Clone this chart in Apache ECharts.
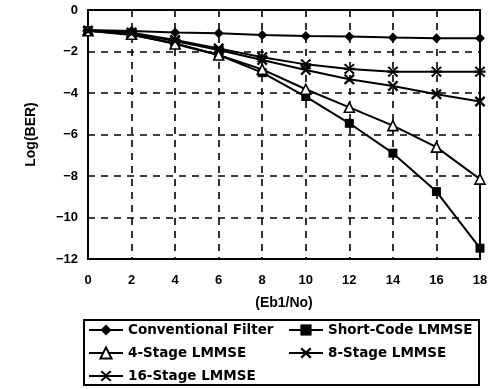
<!DOCTYPE html>
<html>
<head>
<meta charset="utf-8">
<script src="https://cdn.jsdelivr.net/npm/echarts@6/dist/echarts.min.js"></script>
<style>html,body{margin:0;padding:0;background:#fff;overflow:hidden;}#c{width:497px;height:389px;}</style>
</head>
<body>
<div id="c"></div>
<script>
var xValues = [0, 2, 4, 6, 8, 10, 12, 14, 16, 18];
var conventional = [-0.96, -1.01, -1.08, -1.12, -1.2, -1.25, -1.28, -1.33, -1.36, -1.36];
var shortCode = [-1.0, -1.2, -1.6, -2.17, -3.02, -4.17, -5.46, -6.9, -8.75, -11.48];
var stage4 = [-1.0, -1.17, -1.64, -2.17, -2.86, -3.82, -4.69, -5.57, -6.61, -8.15];
var stage8 = [-1.0, -1.12, -1.49, -1.93, -2.41, -2.89, -3.34, -3.66, -4.06, -4.41];
var stage16 = [-1.0, -1.09, -1.44, -1.85, -2.28, -2.62, -2.84, -2.97, -2.97, -2.97];
var seriesNames = ['Conventional Filter', 'Short-Code LMMSE', '4-Stage LMMSE', '8-Stage LMMSE', '16-Stage LMMSE'];
var yTicks = [0, -2, -4, -6, -8, -10, -12];

function pairs(ys) { return xValues.map(function (x, i) { return [x, ys[i]]; }); }

var font = 'Liberation Sans, Arial, sans-serif';
var legendFont = 'DejaVu Sans, sans-serif';
var xPath = 'path://M0,1.5L1.5,0L5,3.5L8.5,0L10,1.5L6.5,5L10,8.5L8.5,10L5,6.5L1.5,10L0,8.5L3.5,5Z';
var starPath = 'path://M0,1.5L1.5,0L5,3.5L8.5,0L10,1.5L6.5,4L10,4L10,6L6.5,6L10,8.5L8.5,10L5,6.5L1.5,10L0,8.5L3.5,6L0,6L0,4L3.5,4Z';

function mk(name, data, symbol, size, fill) {
  return {
    name: name, type: 'line', data: pairs(data),
    symbol: symbol, symbolSize: size, showSymbol: true,
    lineStyle: { color: '#000', width: 2 },
    itemStyle: { color: fill, borderColor: '#000', borderWidth: fill === '#fff' ? 1.6 : 0 },
    emphasis: { disabled: true }, animation: false, z: 3
  };
}

var legendCommon = {
  orient: 'vertical', top: 323, height: 70, padding: 0,
  itemGap: 9, itemWidth: 34, itemHeight: 14,
  textStyle: { color: '#000', fontFamily: legendFont, fontWeight: 'bold', fontSize: 13.5, lineHeight: 14 },
  selectedMode: false
};

var chart = echarts.init(document.getElementById('c'));
chart.setOption({
  animation: false,
  backgroundColor: '#fff',
  grid: { left: 88, right: 17, top: 10, bottom: 130, show: true, borderColor: '#000', borderWidth: 2, containLabel: false },
  xAxis: {
    type: 'value', min: 0, max: 18, interval: 2,
    name: '(Eb1/No)', nameLocation: 'middle', nameGap: 37,
    nameTextStyle: { color: '#000', fontFamily: font, fontWeight: 'bold', fontSize: 14 },
    axisLine: { show: true, lineStyle: { color: '#000', width: 2 } },
    axisTick: { show: false },
    axisLabel: { color: '#000', fontFamily: font, fontWeight: 'bold', fontSize: 13, margin: 15 },
    splitLine: { show: true, lineStyle: { color: '#000', width: 1.6, type: [7, 6] } }
  },
  yAxis: {
    type: 'value', min: -12, max: 0, interval: 2,
    name: 'Log(BER)', nameLocation: 'middle', nameGap: 50,
    nameTextStyle: { color: '#000', fontFamily: font, fontWeight: 'bold', fontSize: 14 },
    axisLine: { show: true, lineStyle: { color: '#000', width: 2 } },
    axisTick: { show: false },
    axisLabel: { color: '#000', fontFamily: font, fontWeight: 'bold', fontSize: 13, margin: 10,
      formatter: function (v) { return yTicks.indexOf(v) >= 0 ? (v < 0 ? '\u2212' + (-v) : String(v)) : ''; } },
    splitLine: { show: true, lineStyle: { color: '#000', width: 1.6, type: [7, 6] } }
  },
  legend: [
    Object.assign({}, legendCommon, { left: 88, data: [seriesNames[0], seriesNames[2], seriesNames[4]] }),
    Object.assign({}, legendCommon, { left: 288, data: [seriesNames[1], seriesNames[3]] })
  ],
  graphic: [{
    type: 'rect', shape: { x: 84, y: 320, width: 395, height: 65 },
    style: { fill: 'none', stroke: '#000', lineWidth: 2 }, silent: true
  }],
  series: [
    mk(seriesNames[0], conventional, 'diamond', 10, '#000'),
    mk(seriesNames[1], shortCode, 'rect', 9, '#000'),
    mk(seriesNames[2], stage4, 'triangle', 10, '#fff'),
    mk(seriesNames[3], stage8, xPath, 11, '#000'),
    mk(seriesNames[4], stage16, starPath, 11, '#000')
  ]
});
</script>
</body>
</html>
